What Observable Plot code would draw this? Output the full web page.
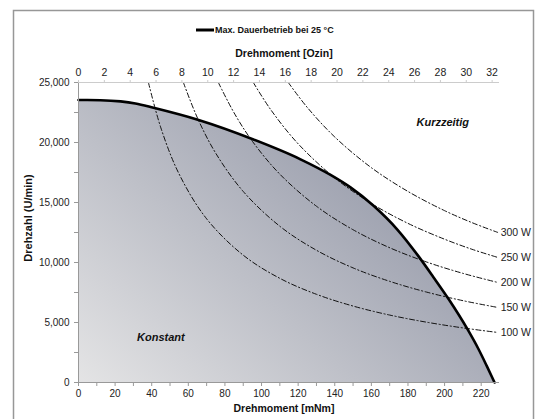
<!DOCTYPE html>
<html>
<head>
<meta charset="utf-8">
<script src="https://cdn.jsdelivr.net/npm/d3@7"></script>
<script src="https://cdn.jsdelivr.net/npm/@observablehq/plot@0.6"></script>
<style>
  html, body { margin: 0; padding: 0; background: #fff; }
  svg { display: block; }
</style>
</head>
<body>
<div id="chart"></div>
<script>
// Max. Dauerbetrieb bei 25 °C : torque (mNm) vs speed (U/min)
const maxT = [0, 12, 23, 31.1, 41, 65.6, 95.6, 121.3, 137.7, 148.6, 161.2, 174.3, 185.7, 193.9, 202.1, 212.5, 218.5, 222.9, 227.3];
const maxN = [23540, 23525, 23425, 23250, 22890, 21875, 20250, 18600, 17300, 16260, 14725, 12725, 10530, 8780, 6975, 4440, 2790, 1425, 0];

// Power curves (torque mNm, speed U/min)
const p100T = [38.2, 45, 55, 70, 90, 110, 130, 150, 170, 190, 210, 229];
const p100N = [25000, 21220, 17360, 13640, 10610, 8680, 7350, 6370, 5620, 5030, 4550, 4170];
const p150T = [57.3, 65, 75, 90, 110, 130, 150, 170, 190, 210, 229];
const p150N = [25000, 22040, 19100, 15920, 13020, 11020, 9550, 8430, 7540, 6820, 6255];
const p200T = [76.4, 85, 95, 110, 130, 150, 170, 190, 210, 229];
const p200N = [25000, 22470, 20100, 17360, 14690, 12730, 11230, 10050, 9095, 8340];
const p250T = [95.5, 105, 120, 140, 160, 180, 200, 215, 229];
const p250N = [25000, 22740, 19890, 17050, 14920, 13260, 11940, 11100, 10425];
const p300T = [114.6, 125, 140, 160, 180, 200, 215, 229];
const p300N = [25000, 22920, 20460, 17900, 15920, 14320, 13320, 12510];
const powerLabels = ["100 W", "150 W", "200 W", "250 W", "300 W"];

// Axis ticks
const xTicks = d3.range(0, 221, 10);
const yTicks = d3.range(0, 25001, 2500);
const ozinTicks = d3.range(0, 33, 2);
const OZIN_TO_MNM = 7.0616;

const maxData = maxT.map((t, i) => ({T: t, n: maxN[i]}));
const powerSets = [[p100T, p100N], [p150T, p150N], [p200T, p200N], [p250T, p250N], [p300T, p300N]];
const powerData = powerSets.flatMap(([ts, ns], k) => ts.map((t, i) => ({T: t, n: ns[i], P: powerLabels[k]})));
const powerEnds = powerSets.map(([ts, ns], k) => ({T: ts[ts.length - 1], n: ns[ns.length - 1], P: powerLabels[k]}));

const fmt = d3.format(",");
const font = "'Liberation Sans', Arial, sans-serif";

const plot = Plot.plot({
  width: 547,
  height: 419,
  marginLeft: 78,
  marginRight: 48,
  marginTop: 82,
  marginBottom: 37,
  style: {fontFamily: font, fontSize: "10px", color: "#222", background: "#fff"},
  x: {domain: [0, 230]},
  y: {domain: [0, 25000]},
  marks: [
    Plot.areaY(maxData, {x: "T", y: "n", fill: "url(#fillGrad)", curve: "monotone-x"}),
    Plot.line(powerData, {x: "T", y: "n", z: "P", stroke: "#111", strokeWidth: 1, strokeDasharray: "5,2.5,1.2,2.5", curve: "catmull-rom"}),
    Plot.text(powerEnds, {x: "T", y: "n", text: "P", textAnchor: "start", dx: 3, fill: "#222", fontSize: 10.5}),
    Plot.line(maxData, {x: "T", y: "n", stroke: "#000", strokeWidth: 2.6, curve: "monotone-x"}),
    Plot.ruleY([25000], {stroke: "#ccc"}),
    Plot.ruleY([0], {stroke: "#999"}),
    Plot.ruleX([0], {stroke: "#999"}),
    Plot.axisY({ticks: yTicks, tickFormat: d => d % 5000 === 0 ? fmt(d) : "", tickSize: 4, tickPadding: 5, stroke: "#999", fill: "#222", label: null, fontSize: 10}),
    Plot.axisX({anchor: "bottom", ticks: xTicks, tickFormat: d => d % 20 === 0 ? String(d) : "", tickSize: 4, tickPadding: 3, stroke: "#999", fill: "#222", label: null, fontSize: 10}),
    Plot.axisX({anchor: "top", ticks: ozinTicks.map(o => o * OZIN_TO_MNM), tickFormat: d => String(Math.round(d / OZIN_TO_MNM)), tickSize: 3, tickPadding: 4, stroke: "#ccc", fill: "#222", label: null, fontSize: 10.5}),
    Plot.text([{T: 199, n: 21700, s: "Kurzzeitig"}, {T: 45, n: 3750, s: "Konstant"}], {x: "T", y: "n", text: "s", fontWeight: "bold", fontStyle: "italic", fontSize: 11, fill: "#111"})
  ]
});

document.getElementById("chart").appendChild(plot);

const svg = d3.select(plot);
const defs = svg.insert("defs", ":first-child");
const g = defs.append("linearGradient").attr("id", "fillGrad")
  .attr("gradientUnits", "userSpaceOnUse")
  .attr("x1", 78).attr("y1", 382).attr("x2", 328).attr("y2", 104);
g.append("stop").attr("offset", "0%").attr("stop-color", "#e4e4e5");
g.append("stop").attr("offset", "100%").attr("stop-color", "#989cab");

// outer border (open at the bottom, like the reference)
svg.append("path")
  .attr("d", "M13.5,419V10.5H533.5V419")
  .attr("fill", "none").attr("stroke", "#979797").attr("stroke-width", 1.5);

// legend
svg.append("line").attr("x1", 196).attr("x2", 214).attr("y1", 30).attr("y2", 30)
  .attr("stroke", "#000").attr("stroke-width", 3);
svg.append("text").attr("x", 215).attr("y", 30).attr("dy", "0.35em").attr("text-anchor", "start")
  .attr("font-family", font).attr("font-size", 9).attr("font-weight", "bold").attr("fill", "#111")
  .text("Max. Dauerbetrieb bei 25 °C");

// axis titles
svg.append("text").attr("x", 284).attr("y", 53).attr("dy", "0.35em").attr("text-anchor", "middle")
  .attr("font-family", font).attr("font-size", 10.5).attr("font-weight", "bold").attr("fill", "#111")
  .text("Drehmoment [Ozin]");
svg.append("text").attr("x", 284).attr("y", 408).attr("dy", "0.35em").attr("text-anchor", "middle")
  .attr("font-family", font).attr("font-size", 10.5).attr("font-weight", "bold").attr("fill", "#111")
  .text("Drehmoment [mNm]");
svg.append("text").attr("transform", "translate(28,218) rotate(-90)").attr("dy", "0.35em").attr("text-anchor", "middle")
  .attr("font-family", font).attr("font-size", 11).attr("font-weight", "bold").attr("fill", "#111")
  .text("Drehzahl (U/min)");
</script>
</body>
</html>
